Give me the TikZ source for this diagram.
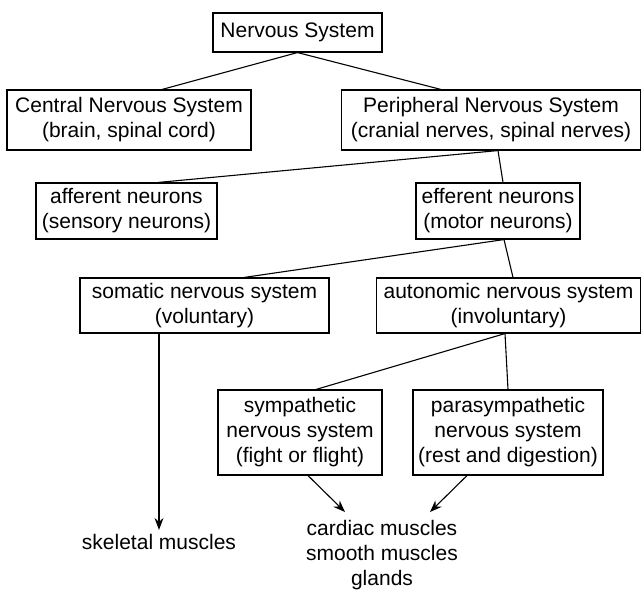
\documentclass[tikz,border=0pt]{standalone}
\usepackage{fontspec}
\setmainfont{Liberation Sans}
\usetikzlibrary{arrows.meta}
\begin{document}
\begin{tikzpicture}
      [x=1pt, y=-1pt, line width=1.1pt,
       every node/.style={font=\fontsize{21}{25}\selectfont, align=center},
       box/.style={draw, inner sep=0pt},
       leads to/.style={-{Stealth[length=12pt,width=9pt,inset=4pt]}}]
      \useasboundingbox (0,0) rectangle (642,590);
      \node[box, minimum width=169pt, minimum height=39pt] (ns) at (297.5,32.5) {Nervous System};

      \node[box, minimum width=244pt, minimum height=60pt] (cns) at (129,120) {Central Nervous System\\(brain, spinal cord)};
      \node[box, minimum width=299pt, minimum height=60pt] (pns) at (491,120) {Peripheral Nervous System\\(cranial nerves, spinal nerves)};

      \node[box, minimum width=181pt, minimum height=56pt] (aff) at (126.5,211) {afferent neurons\\(sensory neurons)};
      \node[box, minimum width=164pt, minimum height=56pt] (eff) at (498,211) {efferent neurons\\(motor neurons)};

      \node[box, minimum width=249pt, minimum height=55pt] (som) at (204.5,305.5) {somatic nervous system\\(voluntary)};
      \node[box, minimum width=264pt, minimum height=55pt] (aut) at (508.5,305.5) {autonomic nervous system\\(involuntary)};

      \node[box, minimum width=164pt, minimum height=85pt] (sym) at (300,432.5) {sympathetic\\nervous system\\(fight or flight)};
      \node[box, minimum width=190pt, minimum height=85pt] (par) at (508,432.5) {parasympathetic\\nervous system\\(rest and digestion)};

      \node (skel) at (159,541.5) {skeletal muscles};
      \node[anchor=north, inner ysep=8pt] (card) at (382,512) {cardiac muscles\\smooth muscles\\glands};

      \draw (ns.south) -- ([xshift=33pt]cns.north);
      \draw (ns.south) -- ([xshift=-50pt]pns.north);
      \draw ([xshift=7pt]pns.south) -- ([xshift=31.5pt]aff.north);
      \draw ([xshift=7pt]pns.south) -- ([xshift=5pt]eff.north);
      \draw ([xshift=6pt]eff.south) -- ([xshift=39.5pt]som.north);
      \draw ([xshift=6pt]eff.south) -- ([xshift=4.5pt]aut.north);
      \draw ([xshift=-3.5pt]aut.south) -- ([xshift=16pt]sym.north);
      \draw ([xshift=-3.5pt]aut.south) -- (par.north);
      \draw[leads to] ([xshift=-45.5pt]som.south) -- (skel);
      \draw[leads to] ([xshift=8pt]sym.south) -- ([xshift=-37pt]card.north);
      \draw[leads to] ([xshift=-41pt]par.south) -- ([xshift=48pt]card.north);
\end{tikzpicture}
\end{document}
